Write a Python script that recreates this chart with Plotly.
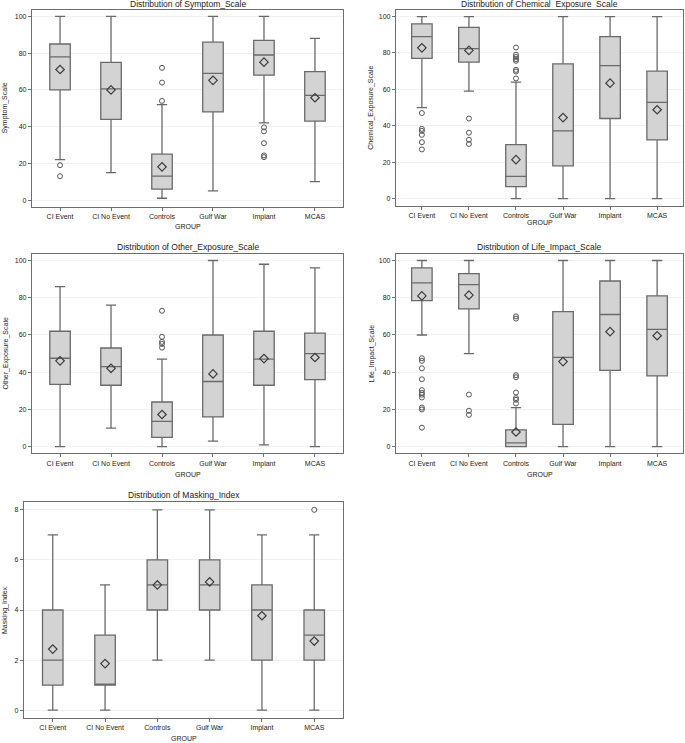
import plotly.graph_objects as go

# ---------------- data ----------------
groups = ["CI Event", "CI No Event", "Controls", "Gulf War", "Implant", "MCAS"]

# Symptom_Scale
symptom_lower = [22, 15, 1, 5, 42, 10]
symptom_q1 = [60, 44, 6, 48, 68, 43]
symptom_median = [78, 60.5, 13, 69, 79, 57]
symptom_q3 = [85, 75, 25, 86, 87, 70]
symptom_upper = [100, 100, 52, 100, 100, 88]
symptom_mean = [71.1, 60, 18.1, 65.2, 75.1, 55.7]
symptom_outliers = [[19, 13], [], [72, 64, 54], [], [39.6, 37.4, 31, 24.3, 23.4], []]

# Chemical_Exposure_Scale
chemical_lower = [50, 59, 0, 0, 0, 0]
chemical_q1 = [77, 75, 6.6, 18, 44, 32.2]
chemical_median = [89, 82.4, 12.2, 37.2, 73, 52.8]
chemical_q3 = [96, 94, 29.6, 74, 89, 70]
chemical_upper = [100, 100, 64, 100, 100, 100]
chemical_mean = [82.8, 81.4, 21.4, 44.5, 63.4, 48.8]
chemical_outliers = [[47, 38.3, 37.2, 35, 31, 27], [44, 36.2, 32.3, 30],
                     [83, 79, 77.8, 76.6, 75.7, 70.7, 69.8, 66], [], [], []]

# Other_Exposure_Scale
other_lower = [0, 10, 0, 3, 1, 0]
other_q1 = [33.5, 33, 5, 16, 33, 36]
other_median = [47.5, 43, 13.6, 35, 47, 50]
other_q3 = [62, 53, 24, 60, 62, 61]
other_upper = [86, 76, 47, 100, 98, 96]
other_mean = [46.1, 42.1, 17.3, 39.1, 47.3, 47.9]
other_outliers = [[], [], [73, 59, 56.3, 55.2, 53.2], [], [], []]

# Life_Impact_Scale
life_lower = [60, 50, 0, 0, 0, 0]
life_q1 = [78.5, 74, 0, 12, 41, 38]
life_median = [88, 87, 2, 48, 71, 63]
life_q3 = [96, 93, 9, 72.5, 89, 81]
life_upper = [100, 100, 21, 100, 100, 100]
life_mean = [81, 81.4, 7.9, 45.7, 61.8, 59.6]
life_outliers = [[47.5, 46.1, 42.1, 36.2, 30.4, 28.9, 27.9, 26.4, 21, 20, 10.2],
                 [28, 19.3, 17.1],
                 [70, 68.8, 38.4, 37.3, 29.1, 26.1, 25.2, 23.2], [], [], []]

# Masking_Index
masking_lower = [0, 0, 2, 2, 0, 0]
masking_q1 = [1, 1, 4, 4, 2, 2]
masking_median = [2, 1, 5, 5, 4, 3]
masking_q3 = [4, 3, 6, 6, 5, 4]
masking_upper = [7, 5, 8, 8, 7, 7]
masking_mean = [2.44, 1.86, 5.0, 5.12, 3.77, 2.76]
masking_outliers = [[], [], [], [], [], [8]]

ticks_100 = [0, 20, 40, 60, 80, 100]
ticks_8 = [0, 2, 4, 6, 8]

# ---------------- layout helpers ----------------
W, H = 685, 743
def fx(p):
    return p / W
def fy(p):
    return 1 - p / H

panels = [
    dict(name="Symptom_Scale", title="Distribution of Symptom_Scale",
         data=(symptom_lower, symptom_q1, symptom_median, symptom_q3, symptom_upper, symptom_mean, symptom_outliers),
         box=(32, 343, 10, 206.7), yr=[-3.6, 103.5], ticks=ticks_100,
         title_y=4, ytitle_x=5, group_y=226),
    dict(name="Chemical_Exposure_Scale", title="Distribution of Chemical  Exposure  Scale",
         data=(chemical_lower, chemical_q1, chemical_median, chemical_q3, chemical_upper, chemical_mean, chemical_outliers),
         box=(396, 683, 10, 205.5), yr=[-3.8, 103.6], ticks=ticks_100,
         title_y=4, ytitle_x=371, group_y=222),
    dict(name="Other_Exposure_Scale", title="Distribution of Other_Exposure_Scale",
         data=(other_lower, other_q1, other_median, other_q3, other_upper, other_mean, other_outliers),
         box=(32, 343, 254, 453), yr=[-3.4, 103.5], ticks=ticks_100,
         title_y=247, ytitle_x=5, group_y=474),
    dict(name="Life_Impact_Scale", title="Distribution of Life_Impact_Scale",
         data=(life_lower, life_q1, life_median, life_q3, life_upper, life_mean, life_outliers),
         box=(396, 683, 254, 453), yr=[-3.4, 103.5], ticks=ticks_100,
         title_y=247, ytitle_x=371, group_y=474),
    dict(name="Masking_Index", title="Distribution of Masking_Index",
         data=(masking_lower, masking_q1, masking_median, masking_q3, masking_upper, masking_mean, masking_outliers),
         box=(24, 343, 502.3, 717.7), yr=[-0.3, 8.3], ticks=ticks_8,
         title_y=495, ytitle_x=5, group_y=738),
]

FONT = "Liberation Sans, Arial, sans-serif"
fig = go.Figure()
annotations = []
layout = {}

for i, p in enumerate(panels):
    n = i + 1
    xa = "x" if n == 1 else f"x{n}"
    ya = "y" if n == 1 else f"y{n}"
    lo, q1, med, q3, up, mean, outl = p["data"]
    x0, x1, y0, y1 = p["box"]
    spacing = (x1 - x0) / 6.1
    bw = 20.5 / spacing

    fig.add_trace(go.Box(
        x=groups, q1=q1, median=med, q3=q3, lowerfence=lo, upperfence=up,
        boxpoints=False, fillcolor="#d3d3d3",
        line=dict(color="#6a6a6a", width=1.3), whiskerwidth=0.5, width=bw,
        xaxis=xa, yaxis=ya, showlegend=False, hoverinfo="y"))
    fig.add_trace(go.Scatter(
        x=groups, y=mean, mode="markers", xaxis=xa, yaxis=ya, showlegend=False,
        marker=dict(symbol="diamond-open", size=6.5, color="#3c3c3c", line=dict(width=1.2))))
    ox, oy = [], []
    for g, vals in zip(groups, outl):
        for v in vals:
            ox.append(g)
            oy.append(v)
    if ox:
        fig.add_trace(go.Scatter(
            x=ox, y=oy, mode="markers", xaxis=xa, yaxis=ya, showlegend=False,
            marker=dict(symbol="circle-open", size=5, color="#555555", line=dict(width=1))))

    xkey = "xaxis" if n == 1 else f"xaxis{n}"
    ykey = "yaxis" if n == 1 else f"yaxis{n}"
    layout[xkey] = dict(
        domain=[fx(x0), fx(x1)], anchor=ya, type="category",
        categoryorder="array", categoryarray=groups, range=[-0.55, 5.55],
        showline=True, mirror=True, linecolor="#6e6e6e", linewidth=1.2,
        ticks="outside", ticklen=3, tickcolor="#6e6e6e", showgrid=False,
        tickfont=dict(family=FONT, size=7, color="#222"), fixedrange=True)
    layout[ykey] = dict(
        domain=[fy(y1), fy(y0)], anchor=xa, range=p["yr"],
        tickmode="array", tickvals=p["ticks"],
        showline=True, mirror=True, linecolor="#6e6e6e", linewidth=1.2,
        ticks="outside", ticklen=3, tickcolor="#6e6e6e",
        showgrid=True, gridcolor="#f0f0f0", gridwidth=1, zeroline=False,
        tickfont=dict(family=FONT, size=7, color="#222"), fixedrange=True)

    cx = (x0 + x1) / 2
    annotations.append(dict(text=p["title"], x=fx(cx), y=fy(p["title_y"]), xref="paper", yref="paper",
                            showarrow=False, xanchor="center", yanchor="middle",
                            font=dict(family=FONT, size=8.5, color="#222")))
    annotations.append(dict(text="GROUP", x=fx(cx), y=fy(p["group_y"]), xref="paper", yref="paper",
                            showarrow=False, xanchor="center", yanchor="middle",
                            font=dict(family=FONT, size=7, color="#222")))
    annotations.append(dict(text=p["name"], x=fx(p["ytitle_x"]), y=fy((y0 + y1) / 2), xref="paper", yref="paper",
                            showarrow=False, xanchor="center", yanchor="middle", textangle=-90,
                            font=dict(family=FONT, size=7, color="#222")))

fig.update_layout(
    width=W, height=H, margin=dict(l=0, r=0, t=0, b=0),
    paper_bgcolor="white", plot_bgcolor="white",
    annotations=annotations, **layout)

fig.write_html("out.html", config={"displayModeBar": False},
               post_script="document.body.style.margin='0';document.body.style.overflow='hidden';")
